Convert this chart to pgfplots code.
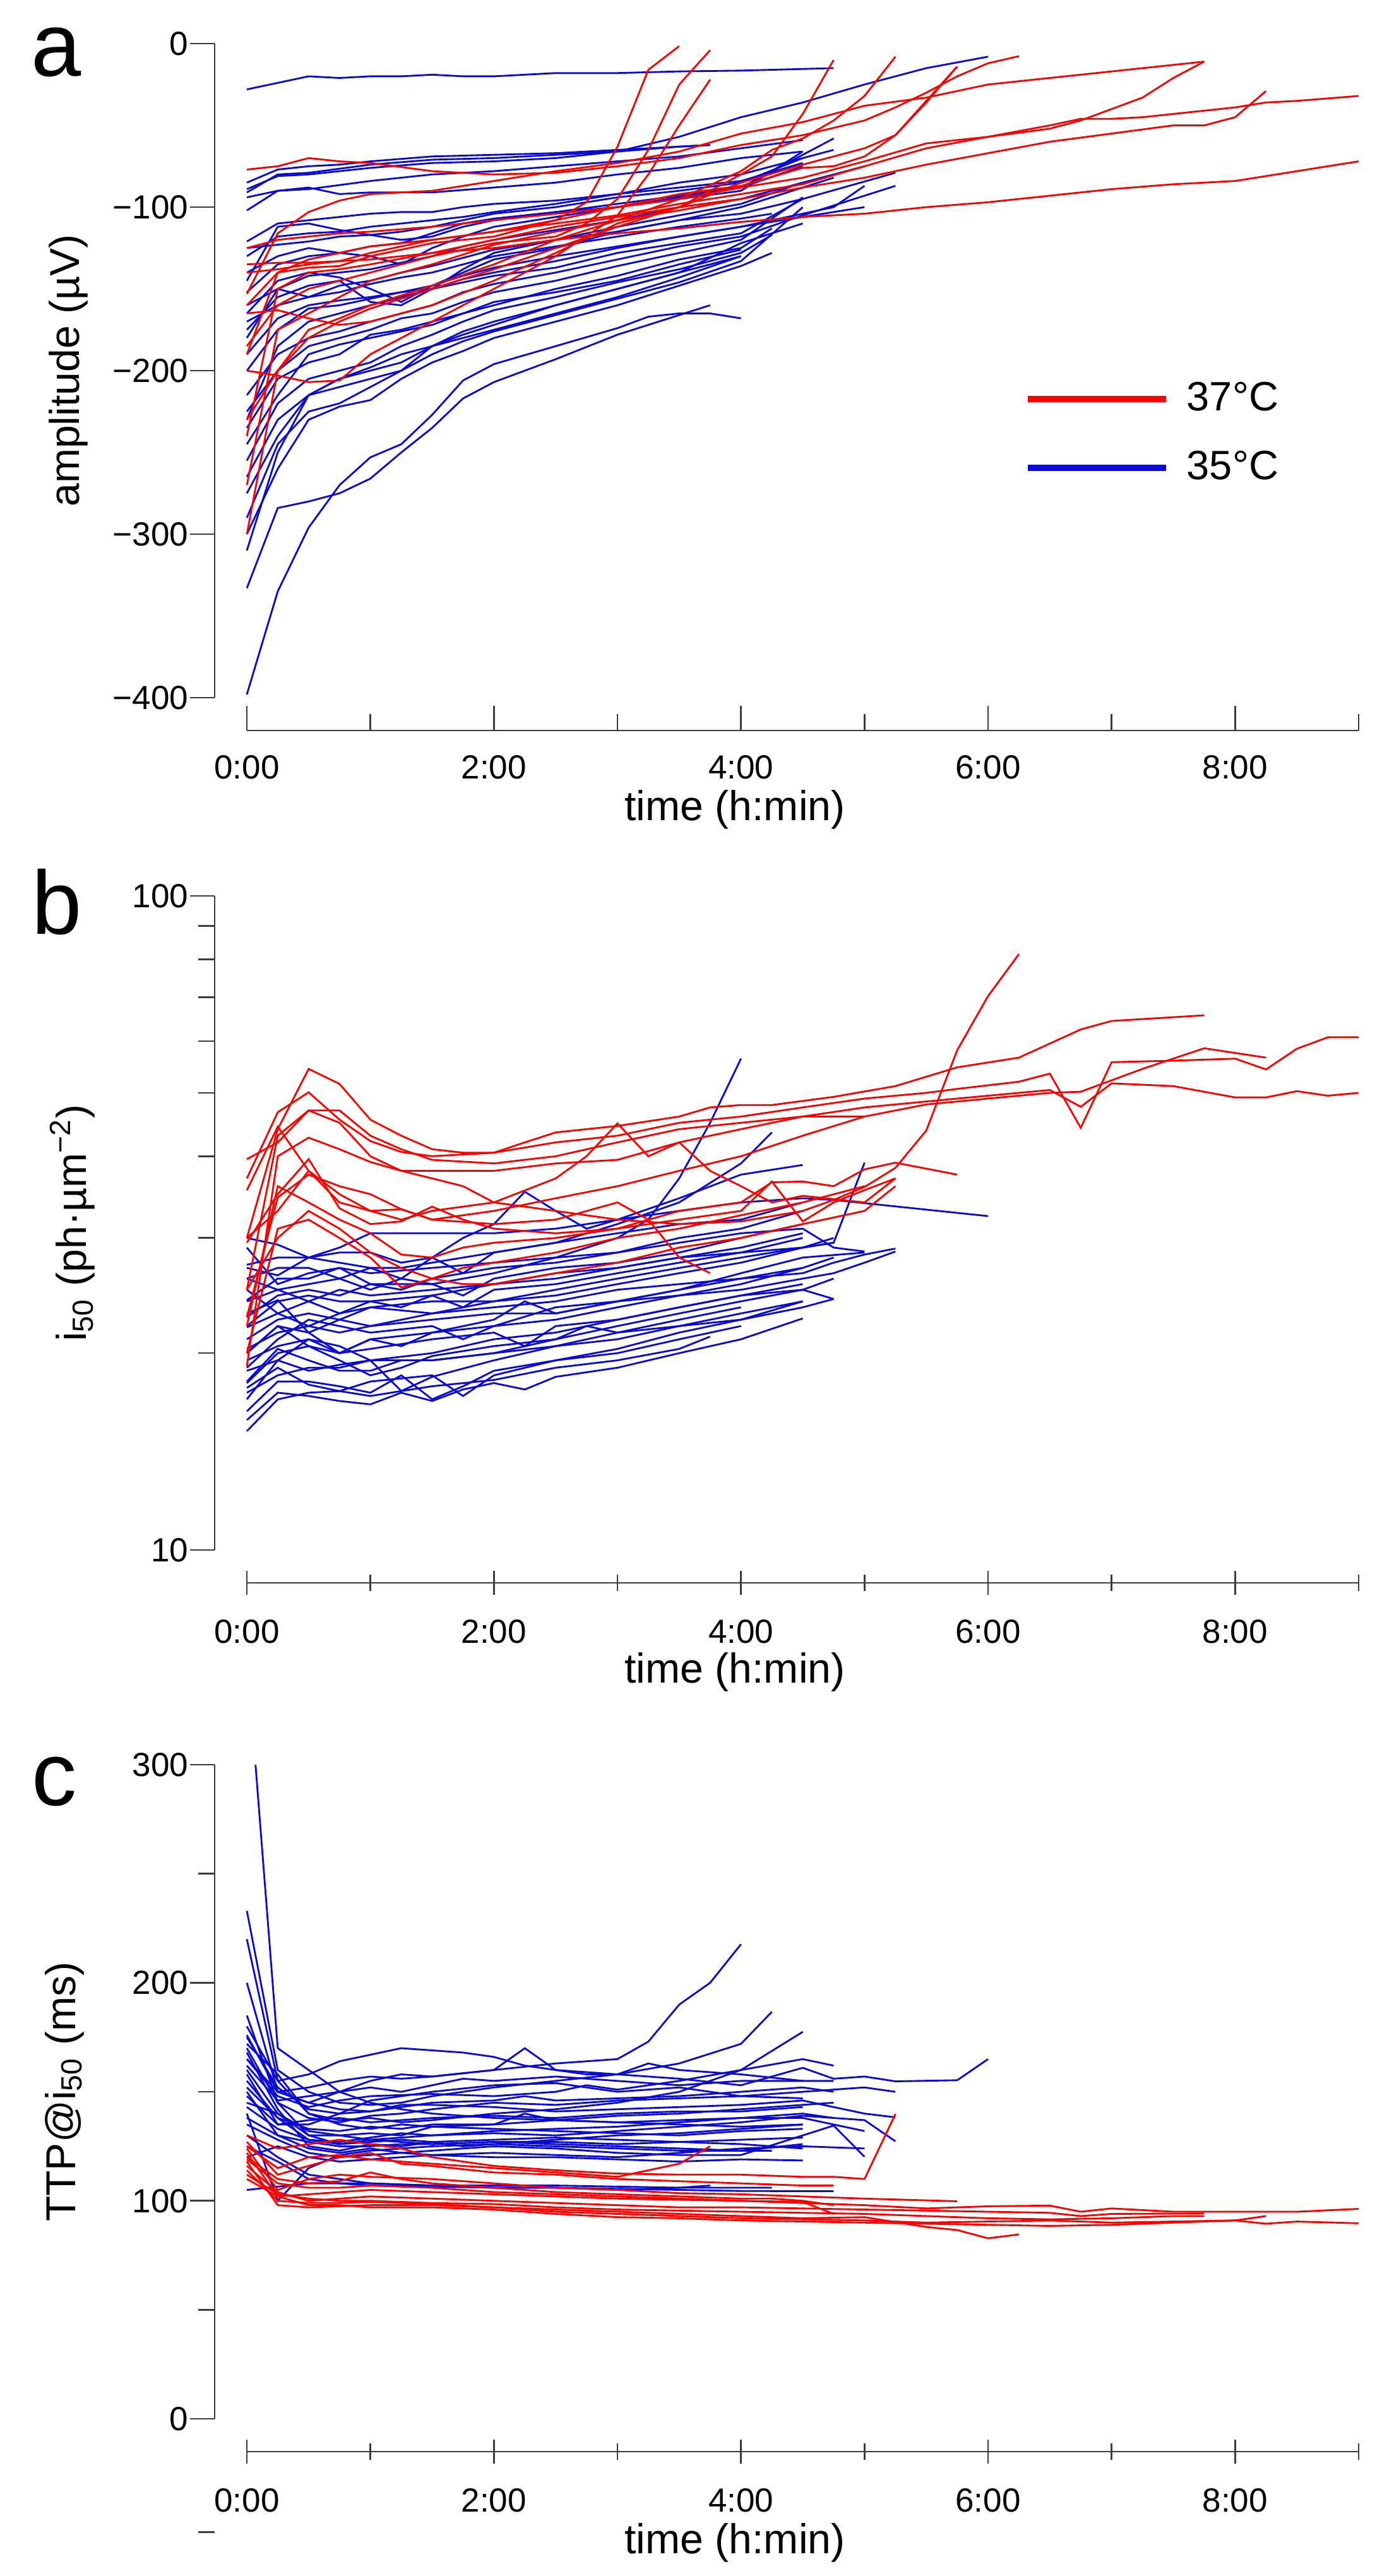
\documentclass[border=0pt]{standalone}
\usepackage{fontspec}
\setmainfont{Liberation Sans}
\usepackage{pgfplots}
\pgfplotsset{compat=1.18}
\definecolor{cred}{RGB}{255,0,0}
\definecolor{cblue}{RGB}{10,10,210}
\definecolor{axgray}{RGB}{60,60,60}
\pgfplotsset{
  R/.style={color=cred, line width=0.5pt},
  B/.style={color=cblue, line width=0.5pt},
  panel/.style={
    scale only axis, width=308.95pt, height=181.75pt,
    xmin=0, xmax=9,
    axis x line*=bottom, axis y line*=left,
    axis x line shift=9.1pt, axis y line shift=8.95pt,
    axis line style={-, line width=0.45pt, draw=axgray},
    xtick={0,2,4,6,8}, xticklabels={0:00,2:00,4:00,6:00,8:00},
    minor xtick={1,3,5,7,9},
    ytick align=outside,
    major tick length=6.8pt, minor tick length=4.5pt,
    tick style={line width=0.45pt, draw=axgray},
    tick label style={font=\fontsize{9.3}{11}\selectfont},
    yticklabel style={xshift=3pt},
    label style={font=\fontsize{11.6}{13}\selectfont},
    xlabel={time (h:min)},
    clip=false, no markers,
  },
}
\begin{document}
\begin{tikzpicture}
\useasboundingbox (0pt,0pt) rectangle (387.37pt,-715.79pt);
%%%%%%%%%%%%%%%%%%%%%%%% PANEL A
\begin{axis}[panel, at={(68.6pt,-193.86pt)}, anchor=south west,
  ymin=-400, ymax=0, ytick={-400,-300,-200,-100,0},
  yticklabels={−400,−300,−200,−100,0},
  xtick align=inside,
  xticklabel style={yshift=-3.4pt},
  xlabel style={at={(axis description cs:0.439,0)},anchor=center,yshift=-31.2pt},
  ylabel={amplitude (µV)},
  ylabel style={at={(axis description cs:-0.1607,0.5)},anchor=center},
  legend cell align=left,
  legend style={at={(axis description cs:0.6996,0.483)}, anchor=north west, draw=none, fill=none,
    inner sep=0pt, outer sep=0pt, row sep=9.7pt, font=\fontsize{11.4}{13}\selectfont,
    nodes={inner sep=0pt}, /tikz/every odd column/.style={column sep=4.9pt}},
  legend image code/.code={\draw[#1, line width=1.75pt] (0pt,0pt) -- (38.4pt,0pt);},
]
\addlegendimage{R}\addlegendentry{37°C}
\addlegendimage{B}\addlegendentry{35°C}
% blue
\addplot[B] coordinates {(0,-28)(0.25,-24)(0.5,-20)(0.75,-21)(1,-20)(1.25,-20)(1.5,-19)(1.75,-20)(2,-20)(2.5,-18)(3,-18)(3.5,-17)(4,-16.5)(4.75,-15)};
\addplot[B] coordinates {(0,-85)(0.25,-77)(0.5,-75)(0.75,-74)(1,-72)(1.5,-69)(2,-68)(2.5,-67)(3,-65)(3.5,-63)(3.75,-62)};
\addplot[B] coordinates {(0,-91)(0.25,-80)(0.5,-79)(1,-74)(1.5,-71)(2,-70)(2.5,-68)(3,-66)(3.5,-63)(3.75,-62)};
\addplot[B] coordinates {(0,-89)(0.25,-81)(0.5,-80)(1,-76)(1.5,-73)(2,-72)(2.5,-70)(3,-66)(3.5,-57)(4,-45)(4.5,-36)(5,-25)(5.5,-15)(6,-8)};
\addplot[B] coordinates {(0,-94)(0.25,-90)(0.5,-89)(1,-84)(1.5,-80)(2,-78)(2.5,-75)(3,-72)(3.5,-69)(4,-64)(4.5,-59)};
\addplot[B] coordinates {(0,-102)(0.25,-90)(0.5,-88)(0.75,-92)(1,-91)(1.5,-91)(2,-88)(2.5,-85)(3,-80)(3.5,-76)(4,-70)(4.5,-66)};
\addplot[B] coordinates {(0,-398)(0.25,-335)(0.5,-296)(0.75,-270)(1,-253)(1.25,-245)(1.5,-227)(1.75,-206)(2,-196)(2.5,-185)(3,-174)(3.25,-167)(3.5,-165)(3.75,-165)(4,-168)};
\addplot[B] coordinates {(0,-333)(0.25,-284)(0.5,-280)(0.75,-275)(1,-266)(1.25,-250)(1.5,-235)(1.75,-217)(2,-207)(2.5,-193)(3,-178)(3.5,-166)(3.75,-160)};
\addplot[B] coordinates {(0,-121)(0.25,-110)(0.5,-108)(0.75,-106)(1,-104)(1.25,-103)(1.5,-103)(1.75,-100)(2,-98)(2.5,-96)(3,-92)(3.5,-88)(4,-84)(4.5,-73)};
\addplot[B] coordinates {(0,-125)(0.25,-123)(0.5,-121)(0.75,-118)(1,-117)(1.25,-115)(1.5,-112)(1.75,-108)(2,-104)(2.5,-100)(3,-94)(3.5,-90)(4,-85)(4.5,-70)};
\addplot[B] coordinates {(0,-145)(0.25,-112)(0.5,-110)(0.75,-114)(1,-117)(1.25,-120)(1.5,-118)(1.75,-112)(2,-108)(2.5,-103)(3,-98)(3.5,-93)(4,-88)(4.75,-58)};
\addplot[B] coordinates {(0,-152)(0.25,-135)(0.5,-130)(0.75,-128)(1,-124)(1.25,-122)(1.5,-116)(1.75,-110)(2,-107)(2.5,-103)(3,-100)(3.5,-95)(4,-90)(4.5,-66)};
\addplot[B] coordinates {(0,-160)(0.25,-150)(0.5,-142)(0.75,-140)(1,-138)(1.25,-134)(1.5,-130)(1.75,-124)(2,-120)(2.5,-114)(3,-108)(3.5,-100)(4,-95)(5,-75)};
\addplot[B] coordinates {(0,-165)(0.25,-145)(0.5,-140)(0.75,-143)(1,-150)(1.25,-158)(1.5,-148)(1.75,-140)(2,-132)(2.5,-125)(3,-115)(3.5,-108)(4,-100)(4.75,-82)};
\addplot[B] coordinates {(0,-170)(0.25,-160)(0.5,-155)(0.75,-148)(1,-145)(1.25,-140)(1.5,-136)(1.75,-131)(2,-126)(2.5,-120)(3,-115)(3.5,-108)(4,-104)(4.5,-95)(5.25,-79)};
\addplot[B] coordinates {(0,-180)(0.25,-150)(0.5,-155)(0.75,-152)(1,-147)(1.25,-143)(1.5,-140)(1.75,-135)(2,-130)(2.5,-124)(3,-118)(3.5,-112)(4,-107)(4.25,-104)};
\addplot[B] coordinates {(0,-190)(0.25,-168)(0.5,-160)(0.75,-157)(1,-155)(1.25,-152)(1.5,-148)(1.75,-142)(2,-137)(2.5,-130)(3,-124)(3.5,-118)(4,-112)(4.75,-100)(5,-87)};
\addplot[B] coordinates {(0,-200)(0.25,-175)(0.5,-162)(0.75,-160)(1,-156)(1.25,-152)(1.5,-150)(1.75,-146)(2,-142)(2.5,-137)(3,-128)(3.5,-122)(4,-116)(4.5,-95)};
\addplot[B] coordinates {(0,-215)(0.25,-190)(0.5,-180)(0.75,-176)(1,-170)(1.25,-165)(1.5,-160)(1.75,-152)(2,-147)(2.5,-140)(3,-132)(3.5,-124)(4,-118)(4.5,-105)(5.25,-87)};
\addplot[B] coordinates {(0,-225)(0.25,-200)(0.5,-185)(0.75,-180)(1,-175)(1.25,-168)(1.5,-165)(1.75,-158)(2,-152)(2.5,-145)(3,-136)(3.5,-128)(4,-120)(4.5,-94)};
\addplot[B] coordinates {(0,-235)(0.25,-205)(0.5,-195)(0.75,-190)(1,-178)(1.25,-175)(1.5,-170)(1.75,-165)(2,-160)(2.5,-150)(3,-142)(3.5,-132)(4,-125)(4.25,-113)};
\addplot[B] coordinates {(0,-245)(0.25,-215)(0.5,-190)(0.75,-184)(1,-180)(1.25,-176)(1.5,-172)(1.75,-165)(2,-158)(2.5,-152)(3,-145)(3.5,-135)(4,-126)};
\addplot[B] coordinates {(0,-255)(0.25,-220)(0.5,-205)(0.75,-200)(1,-195)(1.25,-185)(1.5,-178)(1.75,-170)(2,-163)(2.5,-155)(3,-146)(3.5,-138)(4,-128)(4.25,-117)};
\addplot[B] coordinates {(0,-265)(0.25,-230)(0.5,-215)(0.75,-210)(1,-205)(1.25,-200)(1.5,-185)(1.75,-176)(2,-170)(2.5,-160)(3,-150)(3.5,-140)(4,-122)(4.5,-110)};
\addplot[B] coordinates {(0,-275)(0.25,-240)(0.5,-215)(0.75,-205)(1,-198)(1.25,-190)(1.5,-185)(1.75,-180)(2,-175)(2.5,-165)(3,-155)(3.5,-143)(4,-130)};
\addplot[B] coordinates {(0,-290)(0.25,-245)(0.5,-225)(0.75,-220)(1,-210)(1.25,-200)(1.5,-190)(1.75,-182)(2,-176)(2.5,-166)(3,-156)(3.5,-146)(4,-133)(4.5,-100)};
\addplot[B] coordinates {(0,-300)(0.25,-260)(0.5,-230)(0.75,-222)(1,-218)(1.25,-205)(1.5,-195)(1.75,-188)(2,-180)(2.5,-170)(3,-160)(3.5,-148)(4,-136)(4.25,-128)};
\addplot[B] coordinates {(0,-310)(0.25,-250)(0.5,-215)(0.75,-205)(1,-200)(1.25,-195)(1.5,-185)(1.75,-178)(2,-172)(2.5,-160)(3,-150)(3.5,-140)(4,-130)};
\addplot[B] coordinates {(0,-140)(0.25,-130)(0.5,-125)(0.75,-128)(1,-130)(1.25,-135)(1.5,-125)(1.75,-118)(2,-112)(2.5,-106)(3,-100)(3.5,-94)(4,-88)(4.5,-75)};
\addplot[B] coordinates {(0,-130)(0.25,-118)(0.5,-116)(0.75,-115)(1,-112)(1.25,-110)(1.5,-108)(1.75,-106)(2,-103)(2.5,-98)(3,-92)(3.5,-85)(4,-80)(4.75,-65)};
\addplot[B] coordinates {(0,-175)(0.25,-155)(0.5,-148)(0.75,-145)(1,-158)(1.25,-160)(1.5,-150)(1.75,-138)(2,-128)(2.5,-120)(3,-112)(3.5,-105)(4,-98)(4.5,-85)};
\addplot[B] coordinates {(0,-230)(0.25,-185)(0.5,-170)(0.75,-165)(1,-160)(1.25,-155)(1.5,-150)(1.75,-144)(2,-140)(2.5,-133)(3,-125)(3.5,-118)(4,-112)(5,-100)};
% red
\addplot[R] coordinates {(0,-77)(0.25,-75)(0.5,-70)(0.75,-72)(1,-73)(1.5,-78)(2,-80)(2.5,-79)(3,-75)(3.5,-70)(4,-62)(4.5,-56)(5,-47)(5.25,-39)(5.5,-30)(5.75,-20)(6,-12)(6.25,-7.7)};
\addplot[R] coordinates {(0,-153)(0.25,-116)(0.5,-103)(0.75,-96)(1,-92)(1.5,-90)(2,-84)(2.5,-78)(3,-73)(3.5,-66)(4,-55)(4.5,-48)(5,-38)(5.5,-33)(6,-25)(6.5,-21)(7,-17)(7.5,-13)(7.75,-11)};
\addplot[R] coordinates {(0,-160)(0.25,-140)(0.5,-132)(0.75,-128)(1,-124)(1.5,-120)(2,-115)(2.5,-108)(2.75,-97)(3,-63)(3.25,-16)(3.5,-1.5)};
\addplot[R] coordinates {(0,-185)(0.25,-160)(0.5,-150)(0.75,-145)(1,-140)(1.5,-130)(2,-122)(2.5,-118)(2.75,-110)(3,-95)(3.25,-65)(3.5,-25)(3.75,-4)};
\addplot[R] coordinates {(0,-200)(0.25,-203)(0.5,-207)(0.75,-206)(1,-190)(1.25,-180)(1.5,-170)(2,-150)(2.5,-130)(3,-105)(3.25,-80)(3.5,-50)(3.75,-22)};
\addplot[R] coordinates {(0,-230)(0.25,-200)(0.5,-180)(0.75,-170)(1,-162)(1.5,-150)(2,-138)(2.5,-125)(3,-112)(3.5,-100)(4,-80)(4.25,-69)(4.5,-43)(4.75,-10)};
\addplot[R] coordinates {(0,-300)(0.25,-200)(0.5,-175)(0.75,-168)(1,-160)(1.5,-148)(2,-135)(2.5,-120)(3,-108)(3.5,-95)(4,-78)(4.25,-65)(4.5,-58)(4.75,-47)(5,-32)(5.25,-8)};
\addplot[R] coordinates {(0,-165)(0.25,-163)(0.5,-168)(0.75,-172)(1,-170)(1.5,-160)(2,-145)(2.5,-128)(3,-110)(3.5,-100)(4,-85)(4.5,-74)(5,-64)(5.25,-56)(5.5,-36)(5.75,-14)};
\addplot[R] coordinates {(0,-190)(0.25,-140)(0.5,-137)(0.75,-136)(1,-130)(1.5,-122)(2,-118)(2.5,-108)(3,-100)(3.5,-92)(4,-87)(4.5,-76)(4.75,-75)(5,-69)(5.25,-56)(5.5,-35)(5.75,-14)};
\addplot[R] coordinates {(0,-140)(0.25,-138)(0.5,-135)(0.75,-133)(1,-128)(1.5,-120)(2,-115)(2.5,-110)(3,-105)(3.5,-98)(4,-92)(4.5,-86)(5,-75)(5.5,-64)(6,-57)(6.5,-52)(6.75,-47)(7,-40)(7.25,-33)(7.5,-21)(7.75,-11)};
\addplot[R] coordinates {(0,-125)(0.25,-120)(0.5,-118)(0.75,-116)(1,-115)(1.5,-112)(2,-108)(2.5,-104)(3,-100)(3.5,-95)(4,-88)(4.5,-82)(5,-72)(5.5,-61)(6,-57)(6.5,-50)(6.75,-46)(7,-46)(7.25,-45)(7.5,-43)(8,-39)(8.25,-36)(8.5,-35)(9,-32)};
\addplot[R] coordinates {(0,-240)(0.25,-150)(0.5,-140)(0.75,-138)(1,-135)(1.5,-128)(2,-120)(2.5,-112)(3,-106)(3.5,-100)(4,-95)(4.5,-88)(5,-82)(5.5,-74)(6,-67)(6.5,-60)(7,-55)(7.5,-50)(7.75,-50)(8,-45)(8.25,-29)};
\addplot[R] coordinates {(0,-135)(0.25,-134)(0.5,-134)(1,-132)(1.5,-128)(2,-125)(2.5,-120)(3,-116)(3.5,-113)(4,-109)(4.5,-106)(5,-104)(5.5,-100)(6,-97)(6.5,-93)(7,-89)(7.5,-86)(8,-84)(8.5,-78)(9,-72)};
\addplot[R] coordinates {(0,-270)(0.25,-175)(0.5,-165)(0.75,-155)(1,-145)(1.5,-135)(2,-123)(2.5,-115)(3,-108)(3.5,-102)(4,-95)};
\node[anchor=base, font=\fontsize{25}{30}\selectfont] at (axis description cs:-0.1715,0.9508) {a};
\end{axis}
%%%%%%%%%%%%%%%%%%%%%%%% PANEL B
\begin{axis}[panel, at={(68.6pt,-430.70pt)}, anchor=south west,
  ymode=log, ymin=10, ymax=100, ytick={10,100}, yticklabels={10,100},
  minor ytick={20,30,40,50,60,70,80,90},
  xtick align=center,
  xticklabel style={yshift=-3.4pt},
  xlabel style={at={(axis description cs:0.439,0)},anchor=center,yshift=-33.9pt},
  ylabel={i\textsubscript{50} (ph·µm\textsuperscript{−2})},
  ylabel style={at={(axis description cs:-0.1567,0.5)},anchor=center},
]
% blue
\addplot[B] coordinates {(0,30)(0.25,29.3)(0.5,28)(0.75,29)(1,30.5)(1.25,30.5)(1.5,30.5)(2,30.5)(2.5,31)(3,32)(3.5,33)(4,34)(4.5,34.5)(4.75,34.3)(6,32.4)};
\addplot[B] coordinates {(0,27)(0.25,26.3)(0.5,28)(0.75,27.5)(1,27)(1.25,26)(1.5,28)(1.75,30)(2,31.5)(2.25,35.3)(2.5,33)(2.75,31)(3,32)(3.5,34.5)(4,37.5)(4.5,38.8)};
\addplot[B] coordinates {(0,24)(0.25,25)(0.5,25.5)(0.75,26)(1,25)(1.25,26)(1.5,25.5)(2,26.5)(2.5,28)(3,30)(3.25,32)(3.5,37)(3.75,45)(4,56.4)};
\addplot[B] coordinates {(0,26)(0.25,27)(0.5,27)(0.75,26)(1,27)(1.25,27)(1.5,27.5)(2,28.5)(2.5,29.5)(3,31.5)(3.5,34)(4,39)(4.25,43.5)};
\addplot[B] coordinates {(0,22)(0.25,24)(0.5,24.5)(0.75,24)(1,24)(1.5,24.5)(2,25.5)(2.5,26.5)(3,27)(3.5,28)(4,28.5)(4.5,29)(4.75,29.5)(5,39.1)};
\addplot[B] coordinates {(0,20)(0.25,22)(0.5,21.5)(0.75,22.5)(1,22)(1.5,23)(2,23.5)(2.5,24)(3,25)(3.5,25.5)(4,26)(4.5,26.5)(4.75,27.5)(5,28.3)(5.25,28.9)};
\addplot[B] coordinates {(0,18)(0.25,20)(0.5,20.5)(0.75,20)(1,21)(1.5,21.5)(2,22)(2.5,22.5)(3,23.5)(3.5,24.5)(4,25)(4.5,26)(4.75,26.5)(5,27.5)(5.25,28.6)};
\addplot[B] coordinates {(0,17.4)(0.25,18.5)(0.5,19)(0.75,19)(1,19.5)(1.5,19.5)(2,20)(2.5,20.5)(3,21)(3.5,22)(4,22.5)(4.5,23.5)(4.75,24.2)};
\addplot[B] coordinates {(0,15.2)(0.25,17)(0.5,17.4)(0.75,17.5)(1,17.2)(1.25,17.5)(1.5,17.8)(2,18.2)(2.5,19)(3,19.5)(3.5,20.3)(3.75,21.2)};
\addplot[B] coordinates {(0,15.8)(0.25,17.4)(0.5,17.2)(0.75,16.9)(1,16.7)(1.25,17.4)(1.5,16.9)(1.75,17.6)(2,18)(2.25,17.6)(2.5,18.4)(3,19)(3.5,20)(4,21)(4.5,22.6)};
\addplot[B] coordinates {(0,16.3)(0.25,18.1)(0.5,18.1)(0.75,17.8)(1,17.4)(1.25,18.5)(1.5,17)(1.75,17.8)(2,18.8)(2.5,19.5)(3,20)(3.5,21)(4,22)};
\addplot[B] coordinates {(0,17.7)(0.25,19)(0.5,17.9)(0.75,17.5)(1,18.1)(1.5,18.5)(1.75,17.2)(2,18.5)(2.5,19.5)(3,20.3)(3.5,21.5)(4,22.5)(4.5,24)};
\addplot[B] coordinates {(0,18.8)(0.25,19.5)(0.5,18.8)(0.75,19.2)(1,19.5)(1.25,17.5)(1.5,18.4)(2,19.5)(2.5,20.5)(3,21.5)(3.5,22.5)(4,23.5)};
\addplot[B] coordinates {(0,19.5)(0.25,20.5)(0.5,21)(0.75,20)(1,20.3)(1.5,21)(2,21.5)(2.25,20.5)(2.5,22)(3,22.5)(3.5,23.5)(4,24.5)(4.5,25.5)};
\addplot[B] coordinates {(0,20.3)(0.25,21.5)(0.5,22)(0.75,21.5)(1,22)(1.5,22.5)(2,23)(2.5,23)(3,24)(3.5,25)(4,26)(4.5,27)};
\addplot[B] coordinates {(0,21)(0.25,22.5)(0.5,23)(0.75,22.5)(1,23.5)(1.5,24)(2,24)(2.5,24.5)(3,25.5)(3.5,26.5)(4,27.5)(4.5,29)(4.75,29.5)};
\addplot[B] coordinates {(0,21.9)(0.25,23)(0.5,24)(0.75,25)(1,24.5)(1.5,25)(2,25.5)(2.5,26)(3,27)(3.5,28)(4,29)(4.5,30.5)};
\addplot[B] coordinates {(0,22.7)(0.25,24.5)(0.5,25)(0.75,24.5)(1,25.5)(1.5,25.5)(1.75,24.5)(2,26)(2.5,27)(3,27.5)(3.5,28.5)(4,30)(4.5,31.5)};
\addplot[B] coordinates {(0,24.1)(0.25,26)(0.5,26)(0.75,27)(1,26.5)(1.5,27)(2,27.5)(2.5,28)(3,28.5)(3.5,30)(4,31)(4.5,33)};
\addplot[B] coordinates {(0,25)(0.25,23)(0.5,22)(0.75,23)(1,24)(1.25,23.5)(1.5,24.5)(1.75,23.5)(2,25)(2.5,25.5)(3,26.5)(3.5,27.5)(4,28.5)(4.5,30)};
\addplot[B] coordinates {(0,26)(0.25,25)(0.5,24)(0.75,23)(1,23.5)(1.5,23)(2,24)(2.5,25)(3,26)(3.5,27)(4,28)(4.5,29)(4.75,30)};
\addplot[B] coordinates {(0,27.3)(0.25,28)(0.5,28)(0.75,28.5)(1,28.5)(1.25,27.5)(1.5,28)(1.75,26.5)(2,28.5)(2.5,29.5)(3,30.5)(3.5,31.5)(4,32)(4.5,34)};
\addplot[B] coordinates {(0,23)(0.25,24.1)(0.5,21.5)(0.75,20)(1,21)(1.25,20.5)(1.5,21.5)(2,22.5)(2.25,24)(2.5,23)(3,24)(3.5,24.5)(4,25.5)(4.5,27)(4.75,28)};
\addplot[B] coordinates {(0,20)(0.25,22)(0.5,20.5)(0.75,19.5)(1,18.5)(1.25,19)(1.5,19.8)(2,20.5)(2.5,21)(3,22)(3.5,23)(4,24)(4.5,25)(4.75,26)};
\addplot[B] coordinates {(0,18.1)(0.25,20.3)(0.5,19.5)(0.75,18.8)(1,18.8)(1.25,19.5)(1.5,19.5)(2,20)(2.5,21)(2.75,22)(3,21.5)(3.5,22)(4,23)(4.5,24)};
\addplot[B] coordinates {(0,29)(0.25,25.5)(0.5,26.5)(0.75,27)(1,25.5)(1.25,25)(1.5,26)(2,27)(2.5,27.5)(3,28.5)(3.5,29.5)(4,30.5)(4.5,31)(4.75,29)(5,28.6)};
\addplot[B] coordinates {(0,17)(0.25,19.5)(0.5,21)(0.75,20.5)(1,19.5)(1.5,20)(2,21)(2.5,21.5)(3,22.5)(3.5,23.5)(4,24.5)(4.5,25)(4.75,24.2)};
\addplot[B] coordinates {(0,19)(0.25,21)(0.5,22.5)(0.75,22)(1,21.5)(1.5,22)(1.75,21)(2,22)(2.5,23.5)(3,24)(3.5,25)(4,26.5)(4.5,28)(5,28.5)};
% red
\addplot[R] coordinates {(0,30)(0.25,44)(0.5,54.4)(0.75,51.6)(1,45.5)(1.25,43)(1.5,41)(1.75,40.5)(2,40.5)(2.25,42)(2.5,43.5)(2.75,44)(3,44.5)(3.5,46)(3.75,47.5)(4,47.9)(4.25,47.9)(4.75,49.3)(5.25,51.2)(5.75,54.7)(6.25,56.6)(6.75,62.5)(7,64.4)(7.75,65.7)};
\addplot[R] coordinates {(0,37)(0.25,46.7)(0.5,50.1)(0.75,45.5)(1,42.2)(1.25,40.6)(1.5,40)(2,40.5)(2.5,42)(3,43)(3.5,45)(4,46)(4.5,47.5)(5,49)(5.5,50)(5.75,50.7)(6.25,52)(6.5,53.5)(6.75,44.2)(7,55.7)(7.5,56)(8,56.4)(8.25,54.3)(8.5,58.4)(8.75,60.8)(9,60.8)};
\addplot[R] coordinates {(0,25)(0.25,43)(0.5,47)(0.75,45)(1,40)(1.25,38)(1.5,38)(2,38)(2.5,39)(3,39.5)(3.5,42)(4,44)(4.5,46)(5,47.5)(5.5,48.5)(6,49.5)(6.5,50.5)(6.75,47.6)(7,51.7)(7.5,51.2)(8,49.2)(8.25,49.2)(8.5,50.3)(8.75,49.5)(9,50)};
\addplot[R] coordinates {(0,22.7)(0.25,34.6)(0.5,37.5)(0.75,36)(1,35)(1.25,33.2)(1.5,32)(2,33)(2.5,34.5)(3,36)(3.5,38)(4,40)(4.5,43)(5,46)(5.5,48)(6,49)(6.5,50)(6.75,50.2)(7.25,54.4)(7.75,58.5)(8.25,56.6)};
\addplot[R] coordinates {(0,19.1)(0.25,40)(0.5,42.7)(0.75,41)(1,39.2)(1.25,38)(1.5,37)(1.75,36)(2,34)(2.5,33)(3,32)(3.5,31.5)(4,31.8)(4.5,33)(4.75,34.3)(5,35.9)(5.25,38.4)(5.5,43.8)(5.75,58.1)(6,70.3)(6.25,81.5)};
\addplot[R] coordinates {(0,29.5)(0.25,35)(0.5,39.6)(0.75,33.3)(1,31.5)(1.25,31.8)(1.5,33.5)(1.75,32)(2,31)(2.5,30.5)(3,31)(3.5,33)(4,34)(4.25,36.5)(4.5,36.6)(4.75,36)(5,38.2)(5.25,39.1)(5.75,37.5)};
\addplot[R] coordinates {(0,22)(0.25,36)(0.5,34)(0.75,32)(1,30.5)(1.25,28.3)(1.5,28)(1.75,29)(2,29.5)(2.5,30)(3,31)(3.5,32)(4,33)(4.25,36.6)(4.5,31.8)(4.75,34)(5,35.5)(5.25,37)};
\addplot[R] coordinates {(0,35.5)(0.25,44.4)(0.5,38)(0.75,34)(1,33)(1.25,33.2)(1.5,32)(2,31.5)(2.5,32)(3,34)(3.25,32)(3.5,28)(3.75,26.5)};
\addplot[R] coordinates {(0,39.6)(0.25,42)(0.5,47)(0.75,47)(1,43)(1.25,41)(1.5,39.5)(2,39)(2.5,40)(3,42)(3.5,44)(4,45)(4.5,46)(5,46)};
\addplot[R] coordinates {(0,25)(0.25,30)(0.5,33)(0.75,31)(1,28.5)(1.25,27)(1.5,26)(1.75,25.5)(2,25.5)(2.5,26.5)(3,27.5)(3.5,29)(4,30)(4.5,31.5)(5,33)(5.25,36)};
\addplot[R] coordinates {(0,20)(0.25,31)(0.5,32)(0.75,30)(1,28)(1.25,25.2)(1.5,26)(1.75,27)(2,27.5)(2.5,28.5)(3,30)(3.5,31)(4,32.5)(4.5,34)(5,36)};
\addplot[R] coordinates {(0,30)(0.25,33)(0.5,38)(0.75,35)(1,33)(1.25,32)(1.5,33)(1.75,33.5)(2,34)(2.5,37)(2.75,40)(3,44.9)(3.25,40)(3.5,42)(3.75,38)(4,36)(4.25,34)(4.5,34.8)(5,34)(5.25,37)};
\node[anchor=base, font=\fontsize{25}{30}\selectfont] at (axis description cs:-0.1709,0.9421) {b};
\end{axis}
%%%%%%%%%%%%%%%%%%%%%%%% PANEL C
\begin{axis}[panel, at={(68.6pt,-672.11pt)}, anchor=south west,
  ymin=0, ymax=300, ytick={0,100,200,300}, yticklabels={0,100,200,300},
  minor ytick={50,150,250},
  xtick align=center,
  xticklabel style={yshift=-3.4pt},
  xlabel style={at={(axis description cs:0.439,0)},anchor=center,yshift=-34.4pt},
  ylabel={TTP@i\textsubscript{50} (ms)},
  ylabel style={at={(axis description cs:-0.1641,0.5)},anchor=center},
]
% blue
\addplot[B] coordinates {(0.07,300)(0.25,170)(0.5,160)(0.75,150)(1,145)(1.25,142)(1.5,140)(2,138)(2.5,137)(3,136)(3.5,135)(4,134)(4.5,135)};
\addplot[B] coordinates {(0,233)(0.25,160)(0.5,150)(0.75,145)(1,144)(1.25,145)(1.5,148)(2,152)(2.5,155)(3,158)(3.5,163)(4,172)(4.25,186.7)};
\addplot[B] coordinates {(0,220)(0.25,155)(0.5,140)(0.75,137)(1,138)(1.25,136)(1.5,137)(2,140)(2.5,142)(3,145)(3.5,150)(4,160)(4.5,177.5)};
\addplot[B] coordinates {(0,200)(0.25,150)(0.5,145)(0.75,150)(1,155)(1.25,158)(1.5,157)(2,160)(2.25,170)(2.5,160)(2.75,158)(3,158)(3.5,156)(4,153)(4.5,161)(4.75,156)(5,157)(5.25,154.8)(5.75,155.3)(6,165)};
\addplot[B] coordinates {(0,180)(0.25,155)(0.5,158)(0.75,164)(1,167)(1.25,170)(1.5,169)(1.75,168)(2,166)(2.25,162)(2.5,160)(3,158)(3.25,163)(3.5,160)(4,158)(4.5,155)};
\addplot[B] coordinates {(0,176)(0.25,150)(0.5,152)(0.75,155)(1,157)(1.25,156)(1.5,157)(2,160)(2.5,163)(3,165)(3.25,173)(3.5,190)(3.75,200)(4,217.7)};
\addplot[B] coordinates {(0,172)(0.25,158)(0.5,140)(0.75,135)(1,133)(1.25,135)(1.5,134)(2,133)(2.5,132)(3,131)(3.5,130)(4,132)(4.5,133)};
\addplot[B] coordinates {(0,170)(0.25,145)(0.5,130)(0.75,126)(1,127)(1.25,128)(1.5,127)(2,128)(2.5,129)(3,128)(3.5,127)(4,126)(4.5,124)};
\addplot[B] coordinates {(0,168)(0.25,142)(0.5,125)(0.75,123)(1,126)(1.25,125)(1.5,127)(1.75,125)(2,126)(2.5,125)(3,124)(3.5,123)(4,123)(4.5,126)};
\addplot[B] coordinates {(0,165)(0.25,150)(0.5,145)(0.75,142)(1,141)(1.25,143)(1.5,145)(2,146)(2.25,148)(2.5,146)(3,147)(3.5,148)(4,150)(4.5,152)(4.75,150)};
\addplot[B] coordinates {(0,160)(0.25,140)(0.5,130)(0.75,130)(1,131)(1.25,130)(1.5,134)(2,135)(2.5,137)(3,139)(3.5,140)(4,142)(4.75,145)};
\addplot[B] coordinates {(0,155)(0.25,138)(0.5,128)(0.75,126)(1,128)(1.25,127)(1.5,126)(2,127)(2.5,127)(3,126)(3.5,127)(4,128)(4.5,129)};
\addplot[B] coordinates {(0,150)(0.25,130)(0.5,124)(0.75,122)(1,124)(1.25,122)(1.5,123)(2,125)(2.5,124)(3,122)(3.5,121)(4,121)(4.75,134.5)(5,120.2)};
\addplot[B] coordinates {(0,148)(0.25,135)(0.5,135)(0.75,140)(1,141)(1.25,144)(1.5,144)(2,143)(2.5,141)(3,142)(3.5,143)(4,144)(4.5,146)(5,140)(5.25,138.3)};
\addplot[B] coordinates {(0,145)(0.25,140)(0.5,132)(0.75,130)(1,128)(1.25,129)(1.5,130)(2,131)(2.5,130)(3,132)(3.5,134)(4,136)(4.5,139)(5,137)(5.25,127.3)};
\addplot[B] coordinates {(0,140)(0.25,100)(0.5,115)(0.75,121)(1,123)(1.25,124)(1.5,125)(2,126)(2.5,128)(3,130)(3.5,131)(4,133)(4.5,135)};
\addplot[B] coordinates {(0,138)(0.25,130)(0.5,127)(0.75,125)(1,125)(1.25,126)(1.5,126)(2,127)(2.5,126)(3,125)(3.5,124)(4,123)(4.25,123)};
\addplot[B] coordinates {(0,135)(0.25,128)(0.5,122)(0.75,120)(1,121)(1.25,122)(1.5,121)(2,120)(2.5,120)(3,119)(3.5,118)(4,119)(4.5,118.5)};
\addplot[B] coordinates {(0,130)(0.25,120)(0.5,112)(0.75,110)(1,108)(1.25,107.5)(1.5,107)(2,106)(2.5,106)(3,105.5)(3.5,105)(4,104.5)(4.75,104.4)};
\addplot[B] coordinates {(0,125)(0.25,118)(0.5,110)(0.75,108)(1,107)(1.5,106.5)(2,106)(2.5,106)(3,105)(3.5,106)(3.75,107)};
\addplot[B] coordinates {(0,105)(0.5,108)(1,108)(1.5,107)(2,107)(2.5,107)(3,106.5)(3.5,106)(4,106)(4.25,106)};
\addplot[B] coordinates {(0,120)(0.25,125)(0.5,120)(0.75,118)(1,119)(1.25,120)(1.5,121)(2,122)(2.5,121)(3,120)(3.5,122)(4,124)(4.5,125)(5,124)};
\addplot[B] coordinates {(0,185)(0.25,145)(0.5,138)(0.75,136)(1,139)(1.25,140)(1.5,142)(2,145)(2.5,144)(3,146)(3.5,147)(4,148)(4.5,150)(5,152)(5.25,150)};
\addplot[B] coordinates {(0,158)(0.25,135)(0.5,137)(0.75,138)(1,136)(1.25,137)(1.5,138)(2,139)(2.5,138)(3,140)(3.5,141)(4,141)(4.5,143)};
\addplot[B] coordinates {(0,162)(0.25,146)(0.5,148)(0.75,150)(1,152)(1.25,150)(1.5,153)(1.75,156)(2,155)(2.5,157)(3,155)(3.5,153)(4,155)(4.75,155)};
\addplot[B] coordinates {(0,152)(0.25,138)(0.5,133)(0.75,132)(1,134)(1.25,133)(1.5,135)(2,135)(2.25,140)(2.5,137)(3,136)(3.5,137)(4,138)(4.5,140)(4.75,138)};
\addplot[B] coordinates {(0,143)(0.25,133)(0.5,128)(0.75,127)(1,129)(1.25,131)(1.5,130)(2,132)(2.5,133)(3,134)(3.5,136)(4,138)(4.5,138)(5,132)};
\addplot[B] coordinates {(0,175)(0.25,152)(0.5,142)(0.75,140)(1,146)(1.5,150)(2,153)(2.5,154)(3,150)(3.5,152)(4,148)(4.5,147)};
\addplot[B] coordinates {(0,165)(0.25,148)(0.5,143)(0.75,146)(1,148)(1.5,149)(2,148)(2.5,150)(2.75,153)(3,151)(3.5,155)(4,160)(4.5,165)(4.75,162)};
% red
\addplot[R] coordinates {(0,130)(0.25,124)(0.5,126)(0.75,128)(1,126)(1.25,124)(1.5,120)(2,116)(2.5,114)(3,112.5)(3.5,112)(4,112)(4.5,111)(4.75,111)(5,110)(5.25,139.8)};
\addplot[R] coordinates {(0,127)(0.25,112)(0.5,116)(0.75,120)(1,122)(1.25,117)(1.5,116)(2,113)(2.5,112)(3,110)(3.5,109)(4,108)(4.5,107)(4.75,107)};
\addplot[R] coordinates {(0,124)(0.25,105)(0.5,110)(0.75,112)(1,111)(1.5,110)(2,108)(2.5,106)(3,105)(3.5,103.5)(4,103)(4.5,102)(5,101)(5.75,99.8)};
\addplot[R] coordinates {(0,122)(0.25,102)(0.5,103)(0.75,104)(1,105)(1.5,104)(2,103)(2.5,102)(3,101)(3.5,100.5)(4,100)(4.5,99)(5,98)(5.5,96.5)(6,97.5)(6.5,97.8)(6.75,95)(7,96.5)(7.5,95)(8,95)(8.5,95)(9,96.3)};
\addplot[R] coordinates {(0,118)(0.25,98)(0.5,97)(0.75,97.5)(1,98)(1.5,98)(2,97)(2.5,95)(3,94)(3.5,93)(4,92)(4.5,91.5)(5,91)(5.5,90)(6,90.5)(6.5,91)(7,90)(7.5,90.5)(8,91)(8.25,89.5)(8.5,90.5)(9,89.7)};
\addplot[R] coordinates {(0,116)(0.25,104)(0.5,100)(0.75,101)(1,102)(1.5,101)(2,100)(2.5,99)(3,98)(3.5,97)(4,97)(4.5,96.5)(5,96)(5.5,95.5)(6,95)(6.5,94.5)(6.75,93)(7,94)(7.75,94.2)};
\addplot[R] coordinates {(0,114)(0.25,100)(0.5,99)(0.75,99)(1,99.5)(1.5,98.5)(2,97)(2.5,96)(3,95)(3.5,94)(4,93)(4.5,92)(5,92.5)(5.5,88)(5.75,86.6)(6,82.8)(6.25,84.6)};
\addplot[R] coordinates {(0,112)(0.25,103)(0.5,101)(0.75,100)(1,100)(1.5,99)(2,98.5)(2.5,97)(3,96)(3.5,95.5)(4,95)(4.5,94.5)(5,94)(5.5,93)(6,92)(6.5,91.5)(7,92)(7.5,93)(7.75,93)};
\addplot[R] coordinates {(0,110)(0.25,102)(0.5,98)(0.75,98)(1,97)(1.5,97)(2,96)(2.5,94)(3,92.5)(3.5,92)(4,91)(4.5,90.5)(5,90)(5.5,89.5)(6,89)(6.5,88.5)(7,89)(7.5,90)(8,91)(8.25,93)};
\addplot[R] coordinates {(0,120)(0.25,110)(0.5,108)(0.75,109)(1,113)(1.25,110)(1.5,108)(2,106)(2.5,104)(3,103)(3.5,102)(4,101)(4.25,101)(4.5,100)(4.75,98)};
\addplot[R] coordinates {(0,125)(0.25,115)(0.5,120)(0.75,121)(1,119)(1.5,117)(2,115)(2.5,113)(3,111)(3.5,117)(3.75,125)};
\addplot[R] coordinates {(0,119)(0.25,108)(0.5,106)(0.75,106)(1,107)(1.5,106)(2,104)(2.5,103)(3,102)(3.5,101)(4,100)(4.5,99.5)(4.75,94)};
\draw[axgray, line width=0.45pt] (axis cs:-0.393,-52) -- (axis cs:-0.261,-52);
\node[anchor=base, font=\fontsize{25}{30}\selectfont] at (axis description cs:-0.1732,0.9382) {c};
\end{axis}
\end{tikzpicture}
\end{document}
